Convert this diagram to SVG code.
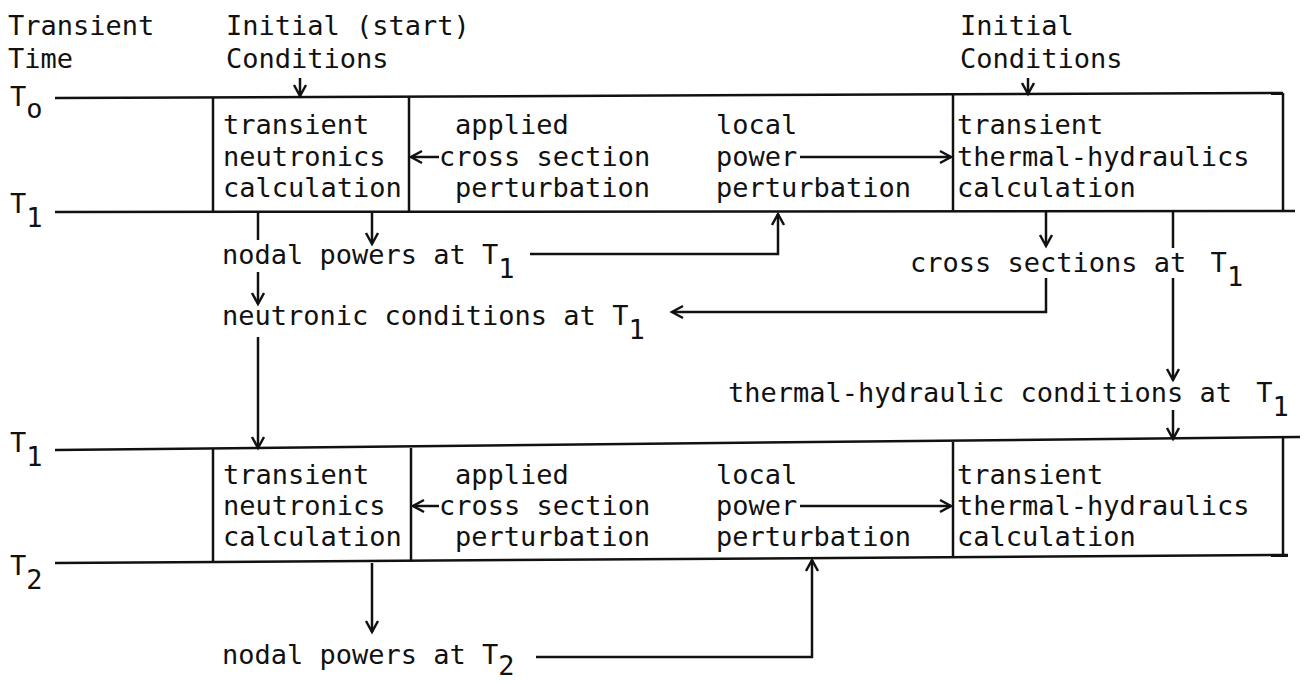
<svg xmlns="http://www.w3.org/2000/svg" width="1309" height="683" viewBox="0 0 1309 683">
<style>
text{font-family:"DejaVu Sans Mono","Liberation Mono",monospace;font-size:27px;fill:#111}
.ln{stroke:#111;stroke-width:2.5;fill:none}
.ar{stroke:#111;stroke-width:2.5;fill:none;marker-end:url(#a)}
</style>
<defs>
<marker id="a" markerWidth="16" markerHeight="16" refX="13" refY="8" orient="auto" markerUnits="userSpaceOnUse"><path d="M2,2 L13,8 L2,14" fill="none" stroke="#111" stroke-width="2.5"/></marker>
</defs>
<rect width="1309" height="683" fill="#fff"/>
<g id="labels">
<text x="8" y="35">Transient</text>
<text x="8" y="68">Time</text>
<text x="226" y="35">Initial (start)</text>
<text x="226" y="68">Conditions</text>
<text x="960" y="35">Initial</text>
<text x="960" y="68">Conditions</text>
<text x="10" y="106">T<tspan dy="12">o</tspan></text>
<text x="10" y="213">T<tspan dy="14">1</tspan></text>
<text x="10" y="452">T<tspan dy="14">1</tspan></text>
<text x="10" y="575">T<tspan dy="14">2</tspan></text>
</g>
<g id="bands">
<line class="ln" x1="55" y1="98" x2="1283" y2="93"/>
<line class="ln" x1="55" y1="212" x2="1295" y2="211"/>
<line class="ln" x1="55" y1="450" x2="1300" y2="437"/>
<line class="ln" x1="55" y1="563" x2="1288" y2="555"/>
</g>
<g id="neutronics1">
<line class="ln" x1="213" y1="97" x2="213" y2="212"/>
<line class="ln" x1="409" y1="97" x2="409" y2="212"/>
<text x="223" y="134">transient</text>
<text x="223" y="166">neutronics</text>
<text x="223" y="197">calculation</text>
</g>
<g id="xsec1">
<text x="455" y="134">applied</text>
<text x="439" y="166">cross section</text>
<text x="455" y="197">perturbation</text>
</g>
<g id="power1">
<text x="716" y="134">local</text>
<text x="716" y="166">power</text>
<text x="716" y="197">perturbation</text>
</g>
<g id="th1">
<line class="ln" x1="953" y1="94" x2="953" y2="212"/>
<line class="ln" x1="1283" y1="93" x2="1283" y2="211"/>
<text x="957" y="134">transient</text>
<text x="957" y="166">thermal-hydraulics</text>
<text x="957" y="197">calculation</text>
</g>
<g id="neutronics2">
<line class="ln" x1="213" y1="449" x2="213" y2="563"/>
<line class="ln" x1="411" y1="448" x2="411" y2="562"/>
<text x="223" y="484">transient</text>
<text x="223" y="515">neutronics</text>
<text x="223" y="546">calculation</text>
</g>
<g id="xsec2">
<text x="455" y="484">applied</text>
<text x="439" y="515">cross section</text>
<text x="455" y="546">perturbation</text>
</g>
<g id="power2">
<text x="716" y="484">local</text>
<text x="716" y="515">power</text>
<text x="716" y="546">perturbation</text>
</g>
<g id="th2">
<line class="ln" x1="953" y1="442" x2="953" y2="558"/>
<line class="ln" x1="1283" y1="438" x2="1283" y2="555"/>
<text x="957" y="484">transient</text>
<text x="957" y="515">thermal-hydraulics</text>
<text x="957" y="546">calculation</text>
</g>
<g id="nodal1"><text x="222" y="264">nodal powers at T<tspan dy="14">1</tspan></text></g>
<g id="neutcond"><text x="222" y="325">neutronic conditions at T<tspan dy="14">1</tspan></text></g>
<g id="xsecT1"><text x="910" y="272">cross sections at <tspan dx="8">T</tspan><tspan dy="14">1</tspan></text></g>
<g id="thcond"><text x="728" y="402">thermal-hydraulic conditions at <tspan dx="8">T</tspan><tspan dy="14">1</tspan></text></g>
<g id="nodal2"><text x="222" y="664">nodal powers at T<tspan dy="11">2</tspan></text></g>
<g id="connectors">
<line class="ar" x1="300" y1="78" x2="300" y2="96"/>
<line class="ar" x1="1028" y1="78" x2="1028" y2="94"/>
<line class="ar" x1="439" y1="157" x2="411" y2="157"/>
<line class="ar" x1="800" y1="157" x2="951" y2="157"/>
<line class="ar" x1="439" y1="506" x2="413" y2="506"/>
<line class="ar" x1="800" y1="506" x2="951" y2="506"/>
<line class="ln" x1="258" y1="212" x2="258" y2="240"/>
<line class="ar" x1="258" y1="272" x2="258" y2="304"/>
<line class="ar" x1="258" y1="337" x2="258" y2="448"/>
<line class="ar" x1="372" y1="212" x2="372" y2="244"/>
<polyline class="ar" points="530,254 778,254 778,214"/>
<line class="ar" x1="1046" y1="212" x2="1046" y2="246"/>
<polyline class="ar" points="1046,278 1046,312 672,312"/>
<line class="ln" x1="1173" y1="212" x2="1173" y2="248"/>
<line class="ar" x1="1173" y1="278" x2="1173" y2="380"/>
<line class="ar" x1="1173" y1="410" x2="1173" y2="439"/>
<line class="ar" x1="372" y1="563" x2="372" y2="632"/>
<polyline class="ar" points="536,657 812,657 812,560"/>
</g>
</svg>
